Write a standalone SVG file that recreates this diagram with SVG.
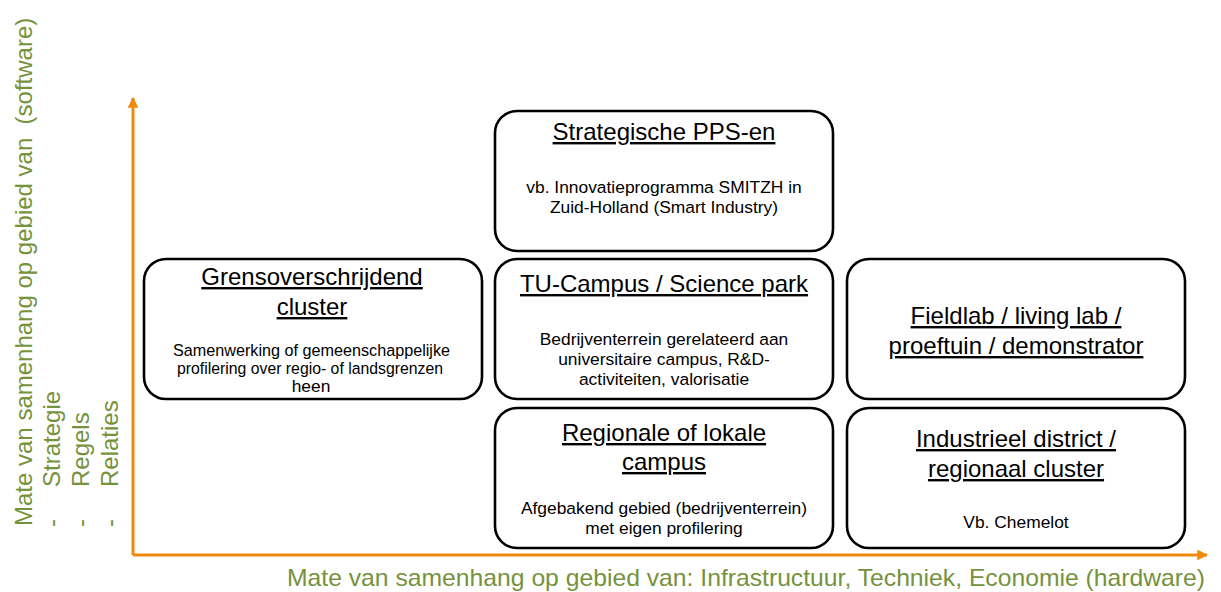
<svg xmlns="http://www.w3.org/2000/svg" width="1221" height="592" viewBox="0 0 1221 592">
<style>
.box{fill:#ffffff;stroke:#000000;stroke-width:2.6}
.t{font-family:"Liberation Sans",Arial,sans-serif;font-size:24px;fill:#000;text-anchor:middle;text-decoration:underline}
.b{font-family:"Liberation Sans",Arial,sans-serif;font-size:17.4px;fill:#000;text-anchor:middle}
.ax{font-family:"Liberation Sans",Arial,sans-serif;font-size:24px;fill:#76923C;white-space:pre}
.axis{stroke:#F08A0C;stroke-width:3;fill:none}
</style>
<defs>
<marker id="arr" viewBox="0 0 10 10" refX="9" refY="5" markerWidth="3.6" markerHeight="3.6" orient="auto" markerUnits="strokeWidth">
<path d="M0,0 L10,5 L0,10 z" fill="#F08A0C"/>
</marker>
</defs>
<g id="connectors">
<path class="axis" d="M133,555 L133,98" marker-end="url(#arr)"/>
<path class="axis" d="M133,555 L1207,555" marker-end="url(#arr)"/>
</g>
<g id="y-label">
<text class="ax" transform="translate(32,526) rotate(-90)">Mate van samenhang op gebied van  (software)</text>
<text class="ax" transform="translate(60,527) rotate(-90)">-</text>
<text class="ax" transform="translate(60,487) rotate(-90)">Strategie</text>
<text class="ax" transform="translate(89,527) rotate(-90)">-</text>
<text class="ax" transform="translate(89,487) rotate(-90)">Regels</text>
<text class="ax" transform="translate(118,527) rotate(-90)">-</text>
<text class="ax" transform="translate(118,487) rotate(-90)">Relaties</text>
</g>
<g id="x-label">
<text class="ax" x="287" y="586" textLength="918" lengthAdjust="spacingAndGlyphs">Mate van samenhang op gebied van: Infrastructuur, Techniek, Economie (hardware)</text>
</g>
<g id="strategische">
<rect class="box" x="495" y="111" width="338" height="140" rx="22"/>
<text class="t" x="664" y="140">Strategische PPS-en</text>
<text class="b" x="664" y="193">vb. Innovatieprogramma SMITZH in</text>
<text class="b" x="664" y="213">Zuid-Holland (Smart Industry)</text>
</g>
<g id="grensoverschrijdend">
<rect class="box" x="144" y="259" width="338" height="140" rx="22"/>
<text class="t" x="312" y="285">Grensoverschrijdend</text>
<text class="t" x="312" y="315">cluster</text>
<text class="b" x="311.5" y="356" textLength="277" lengthAdjust="spacingAndGlyphs">Samenwerking of gemeenschappelijke</text>
<text class="b" x="310" y="374" textLength="266" lengthAdjust="spacingAndGlyphs">profilering over regio- of landsgrenzen</text>
<text class="b" x="311" y="392">heen</text>
</g>
<g id="tu-campus">
<rect class="box" x="495" y="259" width="338" height="140" rx="22"/>
<text class="t" x="664" y="292">TU-Campus / Science park</text>
<text class="b" x="664" y="345">Bedrijventerrein gerelateerd aan</text>
<text class="b" x="664" y="365">universitaire campus, R&amp;D-</text>
<text class="b" x="664" y="385">activiteiten, valorisatie</text>
</g>
<g id="fieldlab">
<rect class="box" x="847" y="259" width="338" height="140" rx="22"/>
<text class="t" x="1016" y="324">Fieldlab / living lab /</text>
<text class="t" x="1016" y="354">proeftuin / demonstrator</text>
</g>
<g id="regionale">
<rect class="box" x="495" y="408" width="338" height="140" rx="22"/>
<text class="t" x="664" y="441">Regionale of lokale</text>
<text class="t" x="664" y="470">campus</text>
<text class="b" x="664" y="514">Afgebakend gebied (bedrijventerrein)</text>
<text class="b" x="664" y="534">met eigen profilering</text>
</g>
<g id="industrieel">
<rect class="box" x="847" y="408" width="338" height="140" rx="22"/>
<text class="t" x="1016" y="447">Industrieel district /</text>
<text class="t" x="1016" y="477">regionaal cluster</text>
<text class="b" x="1016" y="528">Vb. Chemelot</text>
</g>
</svg>
